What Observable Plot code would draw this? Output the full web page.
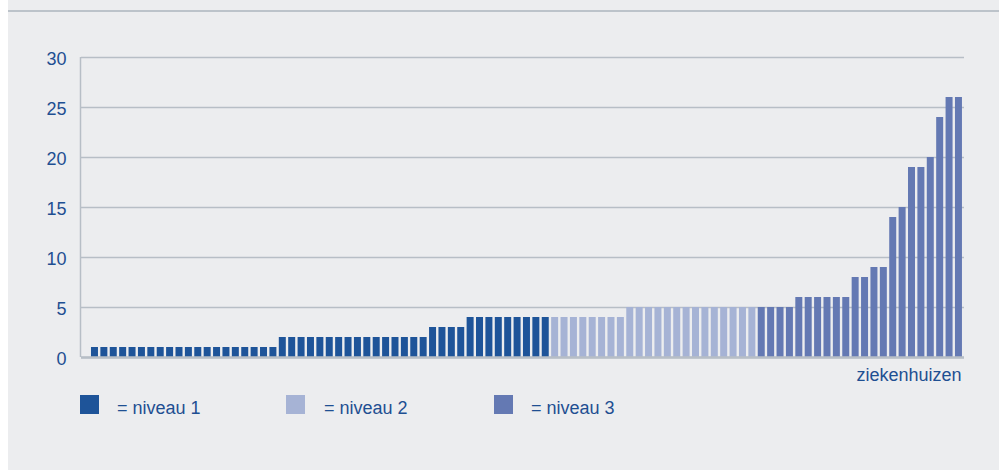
<!DOCTYPE html>
<html>
<head>
<meta charset="utf-8">
<script src="https://cdn.jsdelivr.net/npm/d3@7"></script>
<script src="https://cdn.jsdelivr.net/npm/@observablehq/plot@0.6"></script>
<style>
  html, body { margin: 0; padding: 0; background: #ffffff; }
  #wrap { position: relative; width: 999px; height: 470px; background: #ffffff; overflow: hidden; }
  #panel { position: absolute; left: 8px; top: 0; width: 991px; height: 470px; background: #ECEDEF; }
  #topline { position: absolute; left: 8px; top: 10px; width: 991px; height: 0; border-top: 2px solid #BCC3CA; }
  #chart { position: absolute; left: 0; top: 0; }
  .legend { position: absolute; font-family: "Liberation Sans", Arial, sans-serif; font-size: 18px; color: #1E4F92; }
  .sw { top: 395px; width: 19px; height: 19px; }
  .lt { top: 399px; white-space: nowrap; line-height: 19px; }
</style>
</head>
<body>
<div id="wrap">
  <div id="panel"></div>
  <div id="topline"></div>
  <div id="chart"></div>
  <div id="legend"></div>
</div>
<script>
// Values per hospital (sorted), with their level
const level1Values = [1,1,1,1,1,1,1,1,1,1,1,1,1,1,1,1,1,1,1,1,
                      2,2,2,2,2,2,2,2,2,2,2,2,2,2,2,2,
                      3,3,3,3,
                      4,4,4,4,4,4,4,4,4];
const level2Values = [4,4,4,4,4,4,4,4,
                      5,5,5,5,5,5,5,5,5,5,5,5,5,5];
const level3Values = [5,5,5,5,6,6,6,6,6,6,8,8,9,9,14,15,19,19,20,24,26,26];
const levels = ["niveau 1", "niveau 2", "niveau 3"];
const levelColors = ["#1E5499", "#A6B3D5", "#6479B3"];
const yTicks = [0, 5, 10, 15, 20, 25, 30];
const xLabel = "ziekenhuizen";

const data = [];
[[level1Values, levels[0]], [level2Values, levels[1]], [level3Values, levels[2]]].forEach(([vals, lev]) => {
  vals.forEach(v => data.push({i: data.length, value: v, level: lev}));
});

const textColor = "#1E4F92";
const gridColor = "#B7BEC6";

const plot = Plot.plot({
  width: 999,
  height: 392,
  marginLeft: 81,
  marginRight: 35,
  marginTop: 57,
  marginBottom: 35,
  style: {background: "transparent", fontFamily: "Liberation Sans, Arial, sans-serif", fontSize: "18px", color: textColor},
  x: {type: "band", domain: data.map(d => d.i), paddingInner: 0.255, paddingOuter: 0.64, align: 0.83, axis: null},
  y: {domain: [0, 30], ticks: yTicks, tickSize: 0, tickPadding: 15, label: null},
  color: {domain: levels, range: levelColors},
  marks: [
    Plot.gridY(yTicks, {stroke: gridColor, strokeOpacity: 1, strokeWidth: 1.5}),
    Plot.barY(data, {x: "i", y: "value", fill: "level"}),
    Plot.ruleY([0], {stroke: gridColor, strokeWidth: 2.5}),
    Plot.axisY(yTicks, {tickSize: 0, tickPadding: 15, dy: 2, fill: textColor, fontSize: 18, label: null}),
    Plot.text([xLabel], {frameAnchor: "bottom-right", dx: -3, dy: 23, fill: textColor, fontSize: 18, textAnchor: "end"})
  ]
});
document.getElementById("chart").appendChild(plot);

// vertical axis line along the left edge of the frame
d3.select(plot).append("line")
  .attr("x1", 80.5).attr("x2", 80.5)
  .attr("y1", 57).attr("y2", 357)
  .attr("stroke", gridColor).attr("stroke-width", 1.5);

// legend
const legendPos = [[80, 117], [286, 324], [494, 531]];
const lg = document.getElementById("legend");
levels.forEach((lev, k) => {
  const sw = document.createElement("div");
  sw.className = "legend sw";
  sw.style.left = legendPos[k][0] + "px";
  sw.style.background = levelColors[k];
  lg.appendChild(sw);
  const t = document.createElement("div");
  t.className = "legend lt";
  t.style.left = legendPos[k][1] + "px";
  t.textContent = "= " + lev;
  lg.appendChild(t);
});
</script>
</body>
</html>
